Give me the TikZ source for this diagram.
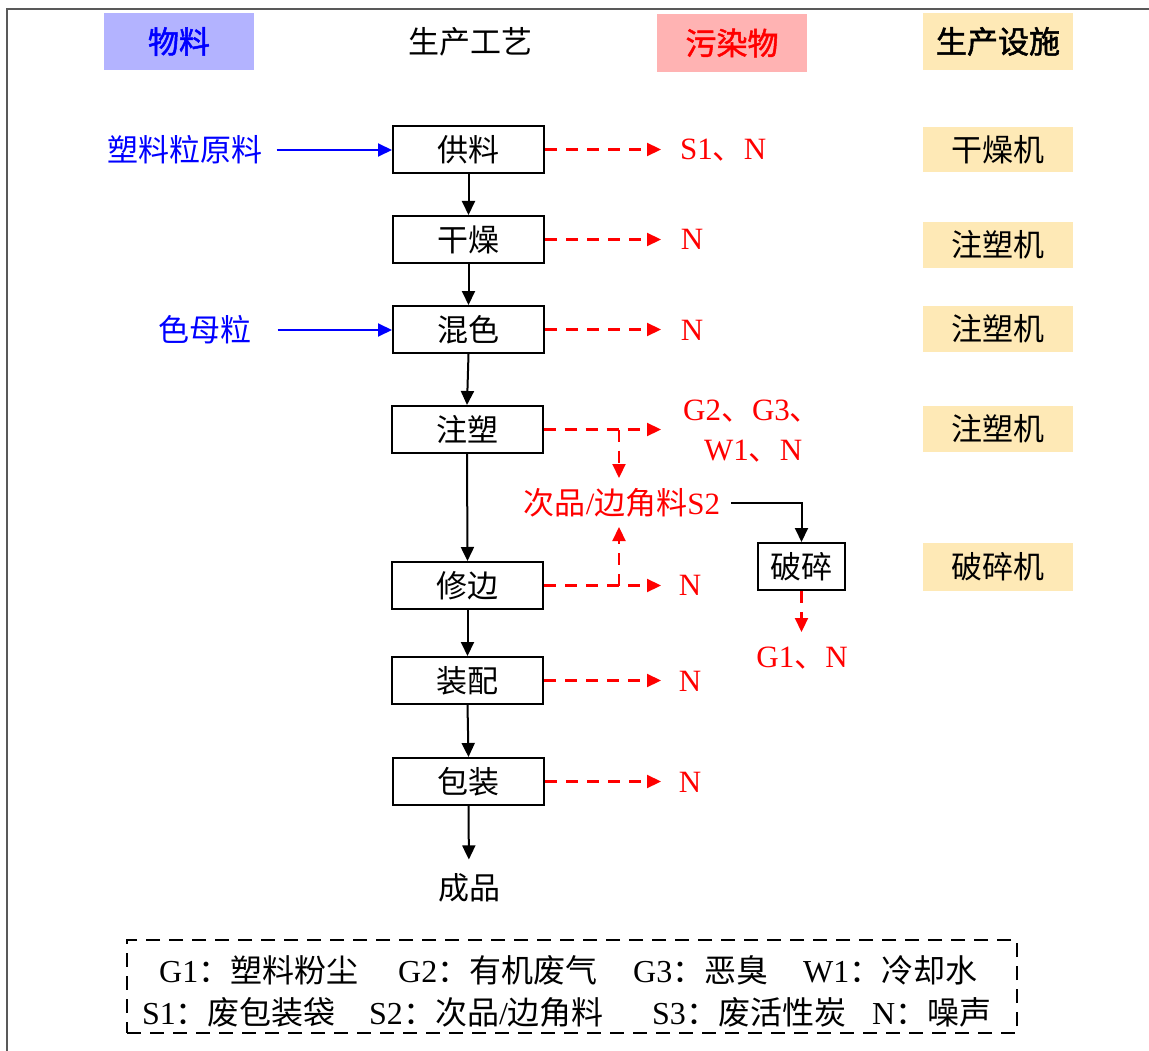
\documentclass[tikz,border=0pt]{standalone}
\usepackage{fontspec}
\setmainfont{Liberation Serif}
\newfontfamily\cjk{Noto Sans CJK SC}
\newfontfamily\cjkb[FakeBold=1.6]{Noto Sans CJK SC}
\usetikzlibrary{arrows.meta}
\newcommand\ZH[1]{{\cjk #1}}
\newcommand\ZHB[1]{{\cjkb #1}}
\definecolor{hdblue}{RGB}{179,179,255}
\definecolor{hdred}{RGB}{255,179,179}
\definecolor{hdyel}{RGB}{254,233,182}
\begin{document}
\begin{tikzpicture}[x=1pt,y=-1pt,
  every node/.style={font=\fontsize{31}{36}\selectfont, inner sep=0pt},
  proc/.style={draw, line width=2pt, minimum width=151pt, minimum height=47pt},
  hdr/.style={minimum width=150pt, minimum height=57pt},
  equip/.style={fill=hdyel, minimum width=150pt, minimum height=45pt},
  redlab/.style={text=red},
  blk/.style={line width=2pt, -{Triangle[length=14pt,width=13pt]}},
  bluearr/.style={blue, line width=2pt, -{Triangle[length=14pt,width=13pt]}},
  reddash/.style={red, line width=2.2pt, dash pattern=on 12pt off 9pt, -{Triangle[length=14pt,width=13pt]}},
  legitem/.style={anchor=west, font=\fontsize{32}{36}\selectfont}
]
\useasboundingbox (0,0) rectangle (1149,1051);
% frame
\draw[black!65, line width=2pt] (7,1051) -- (7,9) -- (1149,9);

% headers
\node[hdr, fill=hdblue, text=blue] (h1) at (179,41.5) {\ZHB{物料}};
\node (h2) at (470,42) {\ZH{生产工艺}};
\node[hdr, fill=hdred, text=red, minimum height=58pt] (h3) at (732,43) {\ZHB{污染物}};
\node[hdr, fill=hdyel] (h4) at (998,41.5) {\ZHB{生产设施}};

% equipment
\node[equip] (e1) at (998,150) {\ZH{干燥机}};
\node[equip, minimum height=46pt] (e2) at (998,245) {\ZH{注塑机}};
\node[equip, minimum height=46pt] (e3) at (998,329) {\ZH{注塑机}};
\node[equip, minimum height=46pt] (e4) at (998,429) {\ZH{注塑机}};
\node[equip, minimum height=48pt] (e5) at (998,567) {\ZH{破碎机}};

% process boxes
\node[proc] (gongliao) at (468.5,149.5) {\ZH{供料}};
\node[proc] (ganzao) at (468.5,239.5) {\ZH{干燥}};
\node[proc] (hunse) at (468.5,329.5) {\ZH{混色}};
\node[proc] (zhusu) at (467,429.5) {\ZH{注塑}};
\node[proc] (xiubian) at (467.5,585.5) {\ZH{修边}};
\node[proc] (zhuangpei) at (467.5,680.5) {\ZH{装配}};
\node[proc] (baozhuang) at (468.5,781.5) {\ZH{包装}};
\node (chengpin) at (469,888) {\ZH{成品}};
\node[draw, line width=2pt, minimum width=87pt, minimum height=47pt] (posui) at (801.5,566.5) {\ZH{破碎}};

% inputs
\node[text=blue] (raw) at (185,150) {\ZH{塑料粒原料}};
\node[text=blue] (mb) at (205,330) {\ZH{色母粒}};
\draw[bluearr, shorten <=14pt] (raw.east) -- (raw.east -| gongliao.west);
\draw[bluearr, shorten <=26pt] (mb.east) -- (mb.east -| hunse.west);

% main flow
\draw[blk] (gongliao.south) -- (ganzao.north);
\draw[blk] (ganzao.south) -- (hunse.north);
\draw[blk] (hunse.south) -- (zhusu.north);
\draw[blk] (zhusu.south) -- (xiubian.north);
\draw[blk] (xiubian.south) -- (zhuangpei.north);
\draw[blk] (zhuangpei.south) -- (baozhuang.north);
\draw[blk, shorten >=14pt] (baozhuang.south) -- (chengpin.north);

% pollutant labels
\node[redlab, anchor=west] (l1) at (680,150) {S1\ZH{、}N};
\node[redlab] (l2) at (692,239) {N};
\node[redlab] (l3) at (692,330) {N};
\node[redlab, anchor=west] (l4a) at (683,411) {G2\ZH{、}G3\ZH{、}};
\node[redlab, anchor=west] (l4b) at (704,451) {W1\ZH{、}N};
\node[redlab] (l5) at (690,585) {N};
\node[redlab] (l6) at (690,681) {N};
\node[redlab] (l7) at (690,782) {N};
\node[redlab] (cp) at (622,503) {\ZH{次品}/\ZH{边角料}S2};
\node[redlab] (g1n) at (802,658) {G1\ZH{、}N};

\coordinate (tip) at (661,0);
\coordinate (jx) at (619,0);
\coordinate (cpTop) at (619,478);
\coordinate (cpBot) at (619,527);
\coordinate (gtip) at (801.5,632);

\draw[reddash] (gongliao.east) -- (gongliao.east -| tip);
\draw[reddash] (ganzao.east) -- (ganzao.east -| tip);
\draw[reddash] (hunse.east) -- (hunse.east -| tip);
\draw[reddash] (zhusu.east) -- (zhusu.east -| tip);
\draw[reddash] (xiubian.east) -- (xiubian.east -| tip);
\draw[reddash] (zhuangpei.east) -- (zhuangpei.east -| tip);
\draw[reddash] (baozhuang.east) -- (baozhuang.east -| tip);
\draw[reddash] (zhusu.east -| jx) -- (cpTop);
\draw[reddash] (xiubian.east -| jx) -- (cpBot);
\draw[reddash] (posui.south) -- (posui.south |- gtip);
\draw[blk, shorten <=11pt] (cp.east) -- (cp.east -| posui.north) -- (posui.north);

% legend
\node[draw, dash pattern=on 14pt off 9pt, line width=2pt, minimum width=890pt, minimum height=93pt] (leg) at (572,986.5) {};
\node[legitem] (lg1) at (159,970) {G1\ZH{：塑料粉尘}};
\node[legitem] (lg2) at (398,970) {G2\ZH{：有机废气}};
\node[legitem] (lg3) at (633,970) {G3\ZH{：恶臭}};
\node[legitem] (lg4) at (803,970) {W1\ZH{：冷却水}};
\node[legitem] (lg5) at (142,1012) {S1\ZH{：废包装袋}};
\node[legitem] (lg6) at (369,1012) {S2\ZH{：次品}/\ZH{边角料}};
\node[legitem] (lg7) at (652,1012) {S3\ZH{：废活性炭}};
\node[legitem] (lg8) at (872,1012) {N\ZH{：噪声}};
\end{tikzpicture}
\end{document}
